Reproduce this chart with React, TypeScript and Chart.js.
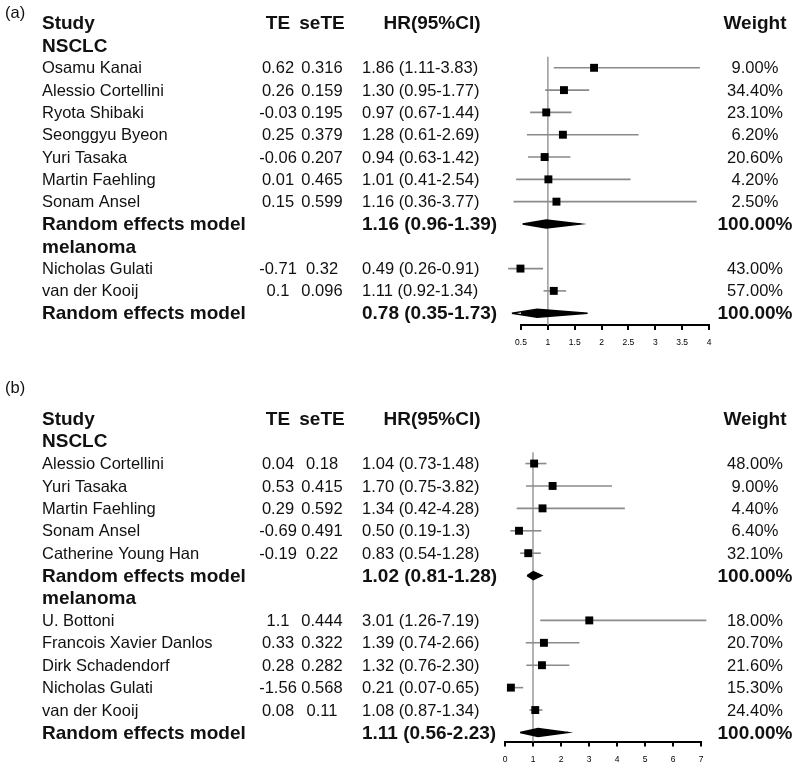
import React, { useEffect, useRef } from "react";
import { Chart, registerables } from "chart.js";

Chart.register(...registerables);

// ---------- Panel (a) data ----------
const groupsA = ["NSCLC", "melanoma"];
const studiesA = [
  "Osamu Kanai",
  "Alessio Cortellini",
  "Ryota Shibaki",
  "Seonggyu Byeon",
  "Yuri Tasaka",
  "Martin Faehling",
  "Sonam Ansel",
  "Nicholas Gulati",
  "van der Kooij",
];
const studyGroupA = [0, 0, 0, 0, 0, 0, 0, 1, 1];
const teA = [0.62, 0.26, -0.03, 0.25, -0.06, 0.01, 0.15, -0.71, 0.1];
const seTEA = [0.316, 0.159, 0.195, 0.379, 0.207, 0.465, 0.599, 0.32, 0.096];
const hrA = [1.86, 1.3, 0.97, 1.28, 0.94, 1.01, 1.16, 0.49, 1.11];
const loA = [1.11, 0.95, 0.67, 0.61, 0.63, 0.41, 0.36, 0.26, 0.92];
const hiA = [3.83, 1.77, 1.44, 2.69, 1.42, 2.54, 3.77, 0.91, 1.34];
const hrTextA = [
  "1.86 (1.11-3.83)",
  "1.30 (0.95-1.77)",
  "0.97 (0.67-1.44)",
  "1.28 (0.61-2.69)",
  "0.94 (0.63-1.42)",
  "1.01 (0.41-2.54)",
  "1.16 (0.36-3.77)",
  "0.49 (0.26-0.91)",
  "1.11 (0.92-1.34)",
];
const weightA = [9.0, 34.4, 23.1, 6.2, 20.6, 4.2, 2.5, 43.0, 57.0];
const sumTextA = ["1.16 (0.96-1.39)", "0.78 (0.35-1.73)"];
const sumWeightA = [100, 100];
const diamondLoA = [0.53, 0.33];
const diamondMidA = [0.97, 0.8];
const diamondHiA = [1.61, 1.74];
const axisA = { min: 0.5, max: 4, step: 0.5 };

// ---------- Panel (b) data ----------
const groupsB = ["NSCLC", "melanoma"];
const studiesB = [
  "Alessio Cortellini",
  "Yuri Tasaka",
  "Martin Faehling",
  "Sonam Ansel",
  "Catherine Young Han",
  "U. Bottoni",
  "Francois Xavier Danlos",
  "Dirk Schadendorf",
  "Nicholas Gulati",
  "van der Kooij",
];
const studyGroupB = [0, 0, 0, 0, 0, 1, 1, 1, 1, 1];
const teB = [0.04, 0.53, 0.29, -0.69, -0.19, 1.1, 0.33, 0.28, -1.56, 0.08];
const seTEB = [0.18, 0.415, 0.592, 0.491, 0.22, 0.444, 0.322, 0.282, 0.568, 0.11];
const hrB = [1.04, 1.7, 1.34, 0.5, 0.83, 3.01, 1.39, 1.32, 0.21, 1.08];
const loB = [0.73, 0.75, 0.42, 0.19, 0.54, 1.26, 0.74, 0.76, 0.07, 0.87];
const hiB = [1.48, 3.82, 4.28, 1.3, 1.28, 7.19, 2.66, 2.3, 0.65, 1.34];
const hrTextB = [
  "1.04 (0.73-1.48)",
  "1.70 (0.75-3.82)",
  "1.34 (0.42-4.28)",
  "0.50 (0.19-1.3)",
  "0.83 (0.54-1.28)",
  "3.01 (1.26-7.19)",
  "1.39 (0.74-2.66)",
  "1.32 (0.76-2.30)",
  "0.21 (0.07-0.65)",
  "1.08 (0.87-1.34)",
];
const weightB = [48.0, 9.0, 4.4, 6.4, 32.1, 18.0, 20.7, 21.6, 15.3, 24.4];
const sumTextB = ["1.02 (0.81-1.28)", "1.11 (0.56-2.23)"];
const sumWeightB = [100, 100];
const diamondLoB = [0.79, 0.54];
const diamondMidB = [1.01, 1.18];
const diamondHiB = [1.32, 2.25];
const axisB = { min: 0, max: 7, step: 1 };

const SUMMARY_LABEL = "Random effects model";
const HEADERS = { study: "Study", te: "TE", se: "seTE", hr: "HR(95%CI)", w: "Weight" };

// ---------- layout / style constants ----------
const FAMILY = '"Liberation Sans", Arial, Helvetica, sans-serif';
const FONT_N = `16.5px ${FAMILY}`;
const FONT_B = `bold 19px ${FAMILY}`;
const TEXT_COLOR = "#111";
const X_STUDY = 42;
const X_TE = 278;
const X_SE = 322;
const X_HR = 362;
const X_HR_HEAD = 432;
const X_W = 755;
const TEXT_DY = 1;
const DIAMOND_H = 0.18;

type Panel = {
  label: string;
  labelY: number;
  canvasH: number;
  left: number;
  right: number;
  axisH: number;
  yMin: number;
  yMax: number;
  groups: string[];
  studies: string[];
  studyGroup: number[];
  te: number[];
  se: number[];
  hr: number[];
  lo: number[];
  hi: number[];
  hrText: string[];
  weight: number[];
  sumText: string[];
  sumWeight: number[];
  dLo: number[];
  dMid: number[];
  dHi: number[];
  axis: { min: number; max: number; step: number };
};

const panelA: Panel = {
  label: "(a)",
  labelY: 13,
  canvasH: 370,
  left: 521,
  right: 709,
  axisH: 45,
  yMin: -0.7885,
  yMax: 13.529,
  groups: groupsA,
  studies: studiesA,
  studyGroup: studyGroupA,
  te: teA,
  se: seTEA,
  hr: hrA,
  lo: loA,
  hi: hiA,
  hrText: hrTextA,
  weight: weightA,
  sumText: sumTextA,
  sumWeight: sumWeightA,
  dLo: diamondLoA,
  dMid: diamondMidA,
  dHi: diamondHiA,
  axis: axisA,
};

const panelB: Panel = {
  label: "(b)",
  labelY: 18,
  canvasH: 404,
  left: 505,
  right: 701,
  axisH: 32.5,
  yMin: -1.925,
  yMax: 14.404,
  groups: groupsB,
  studies: studiesB,
  studyGroup: studyGroupB,
  te: teB,
  se: seTEB,
  hr: hrB,
  lo: loB,
  hi: hiB,
  hrText: hrTextB,
  weight: weightB,
  sumText: sumTextB,
  sumWeight: sumWeightB,
  dLo: diamondLoB,
  dMid: diamondMidB,
  dHi: diamondHiB,
  axis: axisB,
};

type Row = { kind: "header" | "group" | "study" | "summary"; i: number };

function buildRows(p: Panel): Row[] {
  const rows: Row[] = [{ kind: "header", i: 0 }];
  p.groups.forEach((_, g) => {
    rows.push({ kind: "group", i: g });
    p.studyGroup.forEach((sg, i) => {
      if (sg === g) rows.push({ kind: "study", i });
    });
    rows.push({ kind: "summary", i: g });
  });
  return rows;
}

function makeConfig(p: Panel): any {
  const rows = buildRows(p);
  const studyRow: number[] = [];
  const sumRow: number[] = [];
  rows.forEach((r, idx) => {
    if (r.kind === "study") studyRow[r.i] = idx;
    if (r.kind === "summary") sumRow[r.i] = idx;
  });

  const datasets: any[] = [];
  // squares (point estimates)
  datasets.push({
    data: p.hr.map((v, i) => ({ x: v, y: studyRow[i] })),
    showLine: false,
    pointStyle: "rect",
    pointRadius: 5.6,
    backgroundColor: "#000",
    borderColor: "#000",
    borderWidth: 0,
    clip: false,
  });
  // summary diamonds
  p.dLo.forEach((lo, g) => {
    const r = sumRow[g];
    datasets.push({
      data: [
        { x: lo, y: r },
        { x: p.dMid[g], y: r - DIAMOND_H },
        { x: p.dHi[g], y: r },
        { x: p.dMid[g], y: r + DIAMOND_H },
        { x: lo, y: r },
      ],
      showLine: true,
      fill: "shape",
      backgroundColor: "#000",
      borderColor: "#000",
      borderWidth: 1.4,
      pointRadius: 0,
      tension: 0,
      clip: false,
    });
  });
  // confidence intervals
  p.lo.forEach((lo, i) => {
    datasets.push({
      data: [
        { x: lo, y: studyRow[i] },
        { x: p.hi[i], y: studyRow[i] },
      ],
      showLine: true,
      borderColor: "#8a8a8a",
      borderWidth: 1.6,
      pointRadius: 0,
      clip: false,
    });
  });
  // reference line at HR = 1
  datasets.push({
    data: [
      { x: 1, y: studyRow[0] - 0.5 },
      { x: 1, y: p.yMax },
    ],
    showLine: true,
    borderColor: "#9a9a9a",
    borderWidth: 1.5,
    pointRadius: 0,
    clip: false,
  });

  const textPlugin = {
    id: "forestText",
    afterDraw(chart: any) {
      const ctx: CanvasRenderingContext2D = chart.ctx;
      const ys = chart.scales.y;
      ctx.save();
      ctx.fillStyle = TEXT_COLOR;
      ctx.textBaseline = "middle";
      const put = (t: string, x: number, y: number, align: CanvasTextAlign, bold: boolean) => {
        ctx.font = bold ? FONT_B : FONT_N;
        ctx.textAlign = align;
        ctx.fillText(t, x, y);
      };
      put(p.label, 5, p.labelY, "left", false);
      rows.forEach((r, idx) => {
        const y = ys.getPixelForValue(idx) + TEXT_DY;
        if (r.kind === "header") {
          put(HEADERS.study, X_STUDY, y, "left", true);
          put(HEADERS.te, X_TE, y, "center", true);
          put(HEADERS.se, X_SE, y, "center", true);
          put(HEADERS.hr, X_HR_HEAD, y, "center", true);
          put(HEADERS.w, X_W, y, "center", true);
        } else if (r.kind === "group") {
          put(p.groups[r.i], X_STUDY, y, "left", true);
        } else if (r.kind === "study") {
          const i = r.i;
          put(p.studies[i], X_STUDY, y, "left", false);
          put(String(p.te[i]), X_TE, y, "center", false);
          put(String(p.se[i]), X_SE, y, "center", false);
          put(p.hrText[i], X_HR, y, "left", false);
          put(p.weight[i].toFixed(2) + "%", X_W, y, "center", false);
        } else {
          put(SUMMARY_LABEL, X_STUDY, y, "left", true);
          put(p.sumText[r.i], X_HR, y, "left", true);
          put(p.sumWeight[r.i].toFixed(2) + "%", X_W, y, "center", true);
        }
      });
      ctx.restore();
    },
  };

  return {
    type: "scatter",
    data: { datasets },
    plugins: [textPlugin],
    options: {
      responsive: false,
      animation: false,
      events: [],
      layout: { padding: { left: p.left, right: 800 - p.right, top: 0, bottom: 0 } },
      plugins: { legend: { display: false }, tooltip: { enabled: false } },
      scales: {
        x: {
          type: "linear",
          position: "bottom",
          min: p.axis.min,
          max: p.axis.max,
          afterFit: (sc: any) => {
            sc.height = p.axisH;
          },
          ticks: {
            stepSize: p.axis.step,
            autoSkip: false,
            maxRotation: 0,
            color: "#000",
            padding: 8,
            font: { size: 8.5, family: FAMILY },
            callback: (v: any) => String(Number(v)),
          },
          grid: {
            drawOnChartArea: false,
            drawTicks: true,
            tickLength: 5,
            color: "#000",
            lineWidth: 2,
          },
          border: { display: true, color: "#000", width: 2 },
        },
        y: {
          type: "linear",
          display: false,
          reverse: true,
          min: p.yMin,
          max: p.yMax,
        },
      },
    },
  };
}

function ForestCanvas({ panel, top }: { panel: Panel; top: number }) {
  const ref = useRef<HTMLCanvasElement | null>(null);
  useEffect(() => {
    if (!ref.current) return;
    const chart = new Chart(ref.current, makeConfig(panel));
    return () => chart.destroy();
  }, [panel]);
  return (
    <canvas
      ref={ref}
      width={800}
      height={panel.canvasH}
      style={{ position: "absolute", left: 0, top, width: 800, height: panel.canvasH, display: "block" }}
    />
  );
}

export default function App() {
  return (
    <div
      style={{
        position: "absolute",
        left: 0,
        top: 0,
        width: 800,
        height: 774,
        background: "#fff",
        overflow: "hidden",
      }}
    >
      <ForestCanvas panel={panelA} top={0} />
      <ForestCanvas panel={panelB} top={370} />
    </div>
  );
}
